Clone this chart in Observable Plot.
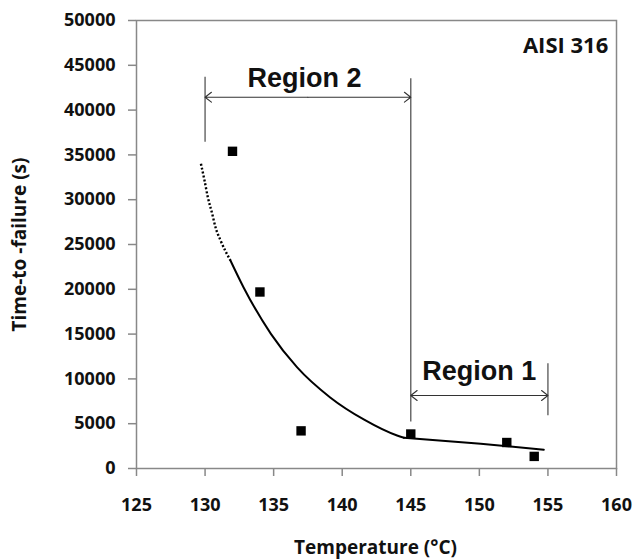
<!DOCTYPE html>
<html><head><meta charset="utf-8">
<script src="https://cdn.jsdelivr.net/npm/d3@7"></script>
<script src="https://cdn.jsdelivr.net/npm/@observablehq/plot@0.6"></script>
<style>body{margin:0;background:#fff}#chart{width:633px;height:559px}</style>
</head><body><div id="chart"></div>
<script>
// Measured data (AISI 316)
const temperature = [132, 134, 137, 145, 152, 154];
const timeToFailure = [35400, 19700, 4200, 3850, 2900, 1350];

// Fitted curve
const fitDottedT = [129.7, 129.96, 130.2, 130.52, 130.76, 131.13, 131.85];
const fitDottedY = [34000, 32140, 30280, 28430, 26930, 25450, 23210];
const fitRegion2T = [131.85, 132.8, 134.8, 136.7, 139.1, 141.6, 144.0, 144.5];
const fitRegion2Y = [23210, 20230, 15030, 11310, 7960, 5450, 3680, 3430];
const fitRegion1T = [144.5, 150.1, 154.7];
const fitRegion1Y = [3430, 2760, 2090];

// Ticks
const xTicks = [125, 130, 135, 140, 145, 150, 155, 160];
const yTicks = [0, 5000, 10000, 15000, 20000, 25000, 30000, 35000, 40000, 45000, 50000];

// Region annotations
const regionNames = ["Region 2", "Region 1"];
const regionFrom = [130, 145];
const regionTo = [145, 155];
const regionArrowY = [41440, 8150];
const regionLabelX = [137.25, 150];
const regionLabelY = [42630, 9930];
// bracket bars: x, bottom, top
const barT = [130, 145, 155];
const barLow = [36420, 5200, 5900];
const barHigh = [43670, 43490, 11700];

const materialLabel = "AISI 316";

const points = temperature.map((t, i) => ({t, y: timeToFailure[i]}));
const dotted = fitDottedT.map((t, i) => ({t, y: fitDottedY[i]}));
const fit2 = fitRegion2T.map((t, i) => ({t, y: fitRegion2Y[i]}));
const fit1 = fitRegion1T.map((t, i) => ({t, y: fitRegion1Y[i]}));
const bars = barT.map((t, i) => ({t, lo: barLow[i], hi: barHigh[i]}));
const arrows = [];
regionNames.forEach((n, i) => {
  const mid = (regionFrom[i] + regionTo[i]) / 2;
  arrows.push({x1: mid, x2: regionFrom[i], y: regionArrowY[i]});
  arrows.push({x1: mid, x2: regionTo[i], y: regionArrowY[i]});
});
const labels = regionNames.map((n, i) => ({n, x: regionLabelX[i], y: regionLabelY[i]}));

const chart = Plot.plot({
  width: 633,
  height: 559,
  marginLeft: 136,
  marginRight: 17,
  marginTop: 20,
  marginBottom: 91,
  style: {fontFamily: "'Open Sans', sans-serif", fontSize: "18px", fontWeight: "bold", color: "#111", background: "#fff"},
  x: {domain: [125, 160], axis: null},
  y: {domain: [0, 50000], axis: null},
  marks: [
    Plot.frame({stroke: "#888", strokeWidth: 1.5}),
    Plot.axisX({ticks: xTicks, tickSize: 8, tickPadding: 22, stroke: "#888", strokeWidth: 1.5, fill: "#111", label: null, tickFormat: d => String(d)}),
    Plot.axisY({ticks: yTicks, tickSize: 8, tickPadding: 13, stroke: "#888", strokeWidth: 1.5, fill: "#111", label: null, tickFormat: d => String(d)}),
    Plot.ruleX(bars, {x: "t", y1: "lo", y2: "hi", stroke: "#555", strokeWidth: 1.3}),
    Plot.arrow(arrows, {x1: "x1", x2: "x2", y1: "y", y2: "y", stroke: "#333", strokeWidth: 1.1, headLength: 11, headAngle: 76}),
    Plot.line(dotted, {x: "t", y: "y", stroke: "#000", strokeWidth: 2.4, strokeDasharray: "2 2", strokeLinecap: "butt", curve: "monotone-x"}),
    Plot.line(fit2, {x: "t", y: "y", stroke: "#000", strokeWidth: 2, curve: "monotone-x"}),
    Plot.line(fit1, {x: "t", y: "y", stroke: "#000", strokeWidth: 2}),
    Plot.dot(points, {x: "t", y: "y", symbol: "square", r: 5.3, fill: "#000", stroke: "none"}),
    Plot.text(labels, {x: "x", y: "y", text: "n", textAnchor: "middle", lineAnchor: "bottom", fontFamily: "'Liberation Sans', Arial, sans-serif", fontSize: 27, fontWeight: "bold", fill: "#111"}),
    Plot.text([materialLabel], {x: 159.4, y: 46320, text: d => d, textAnchor: "end", lineAnchor: "bottom", fontSize: 22, fontWeight: "bold", fill: "#111"})
  ]
});
document.getElementById("chart").appendChild(chart);

const svg = d3.select(chart);
svg.append("text")
  .attr("x", 375.5).attr("y", 554)
  .attr("text-anchor", "middle")
  .style("font-family", "'Open Sans', sans-serif").style("font-size", "19px").style("font-weight", "bold").attr("fill", "#111")
  .text("Temperature (°C)");
svg.append("text")
  .attr("transform", "translate(26,244.5) rotate(-90)")
  .attr("text-anchor", "middle")
  .style("font-family", "'Open Sans', sans-serif").style("font-size", "19px").style("font-weight", "bold").attr("fill", "#111")
  .text("Time-to -failure (s)");
</script>
</body></html>
